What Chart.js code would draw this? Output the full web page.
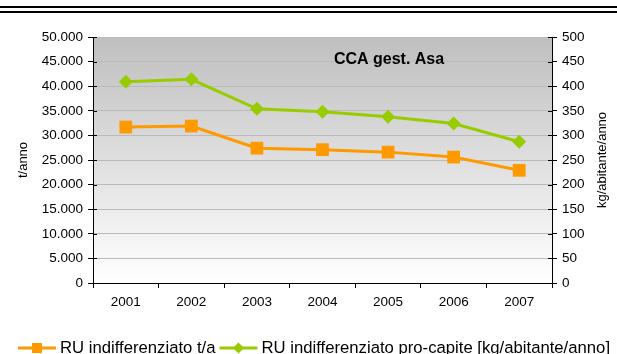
<!DOCTYPE html>
<html>
<head>
<meta charset="utf-8">
<script src="https://cdn.jsdelivr.net/npm/chart.js@4/dist/chart.umd.min.js"></script>
<style>
  html, body { margin: 0; padding: 0; background: #ffffff; }
  #wrap { position: relative; width: 617px; height: 354px; }
  .rule { position: absolute; left: 0; width: 617px; height: 2px; background: #000; }
</style>
</head>
<body>
<div id="wrap">
  <div class="rule" style="top:6px"></div>
  <div class="rule" style="top:11px"></div>
  <canvas id="c" width="617" height="354"></canvas>
</div>
<script>
// Anni
const years = ['2001', '2002', '2003', '2004', '2005', '2006', '2007'];
// Rifiuti urbani indifferenziati, tonnellate/anno (asse sinistro)
const ruTonnellate = [31700, 31900, 27400, 27100, 26600, 25600, 22900];
// Rifiuti urbani indifferenziati pro-capite, kg/abitante/anno (asse destro)
const ruProCapite = [409, 414, 354, 348, 338, 324, 287];

const seriesNames = ['RU indifferenziato t/a', 'RU indifferenziato pro-capite [kg/abitante/anno]'];
const chartTitle = 'CCA gest. Asa';
const leftAxisTitle = 't/anno';
const rightAxisTitle = 'kg/abitante/anno';

const FONT = '"Liberation Sans", Arial, sans-serif';
const ORANGE = '#FF9900';
const GREEN = '#99CC00';
const TICK_SIZE = 13.5;

const fmtThousands = v => {
  const s = Math.round(v).toString();
  return s.replace(/\B(?=(\d{3})+(?!\d))/g, '.');
};

// Sfondo sfumato dell'area del grafico
const bgPlugin = {
  id: 'bgGradient',
  beforeDraw(chart) {
    const { ctx, chartArea: a } = chart;
    const g = ctx.createLinearGradient(0, a.top, 0, a.bottom);
    g.addColorStop(0, '#bfbfbf');
    g.addColorStop(1, '#ffffff');
    ctx.save();
    ctx.fillStyle = g;
    ctx.fillRect(a.left, a.top, a.right - a.left, a.bottom - a.top);
    ctx.restore();
  }
};

// Tacche degli assi verticali che attraversano il bordo
const tickCrossPlugin = {
  id: 'tickCross',
  afterDatasetsDraw(chart) {
    const { ctx, chartArea: a, scales } = chart;
    ctx.save();
    ctx.strokeStyle = '#000';
    ctx.lineWidth = 1;
    ctx.beginPath();
    scales.y.ticks.forEach(t => {
      const py = Math.round(scales.y.getPixelForValue(t.value)) + 0.5;
      ctx.moveTo(a.left, py); ctx.lineTo(a.left + 4, py);
    });
    scales.y1.ticks.forEach(t => {
      const py = Math.round(scales.y1.getPixelForValue(t.value)) + 0.5;
      ctx.moveTo(a.right - 4, py); ctx.lineTo(a.right, py);
    });
    ctx.stroke();
    ctx.restore();
  }
};

// Titolo interno, titoli degli assi e legenda
const textPlugin = {
  id: 'texts',
  afterDraw(chart) {
    const { ctx } = chart;
    ctx.save();
    ctx.fillStyle = '#000';
    ctx.textBaseline = 'middle';

    ctx.font = 'bold 16px ' + FONT;
    ctx.textAlign = 'center';
    ctx.fillText(chartTitle, 389, 60);

    ctx.font = '13px ' + FONT;
    ctx.save();
    ctx.translate(23, 160);
    ctx.rotate(-Math.PI / 2);
    ctx.fillText(leftAxisTitle, 0, 0);
    ctx.restore();

    ctx.save();
    ctx.translate(602, 160);
    ctx.rotate(-Math.PI / 2);
    ctx.fillText(rightAxisTitle, 0, 0);
    ctx.restore();

    // Legenda
    ctx.font = '16.7px ' + FONT;
    ctx.textAlign = 'left';
    const y = 348;
    let x = 18;
    chart.data.datasets.forEach(ds => {
      const w = 38;
      ctx.strokeStyle = ds.borderColor;
      ctx.lineWidth = 3;
      ctx.beginPath();
      ctx.moveTo(x, y);
      ctx.lineTo(x + w, y);
      ctx.stroke();
      ctx.fillStyle = ds.pointBackgroundColor;
      if (ds.pointStyle === 'rect') {
        ctx.fillRect(x + w / 2 - 5, y - 5, 10, 10);
      } else {
        const r = 5.5;
        ctx.beginPath();
        ctx.moveTo(x + w / 2, y - r);
        ctx.lineTo(x + w / 2 + r, y);
        ctx.lineTo(x + w / 2, y + r);
        ctx.lineTo(x + w / 2 - r, y);
        ctx.closePath();
        ctx.fill();
      }
      ctx.fillStyle = '#000';
      ctx.fillText(ds.label, x + w + 4, y);
      x += w + 4 + ctx.measureText(ds.label).width + 4;
    });
    ctx.restore();
  }
};

new Chart(document.getElementById('c'), {
  type: 'line',
  data: {
    labels: years,
    datasets: [
      {
        label: seriesNames[0],
        data: ruTonnellate,
        yAxisID: 'y',
        borderColor: ORANGE,
        backgroundColor: ORANGE,
        pointBackgroundColor: ORANGE,
        pointBorderColor: ORANGE,
        borderWidth: 3,
        pointStyle: 'rect',
        pointRadius: 9,
        pointBorderWidth: 0,
        tension: 0
      },
      {
        label: seriesNames[1],
        data: ruProCapite,
        yAxisID: 'y1',
        borderColor: GREEN,
        backgroundColor: GREEN,
        pointBackgroundColor: GREEN,
        pointBorderColor: GREEN,
        borderWidth: 3,
        pointStyle: 'rectRot',
        pointRadius: 7,
        pointBorderWidth: 0,
        tension: 0
      }
    ]
  },
  options: {
    responsive: false,
    animation: false,
    devicePixelRatio: 1,
    layout: { padding: { left: 0, right: 0, top: 37, bottom: 41 } },
    plugins: {
      legend: { display: false },
      tooltip: { enabled: false },
      title: { display: false }
    },
    scales: {
      x: {
        offset: true,
        grid: {
          offset: true,
          drawOnChartArea: false,
          color: '#000',
          tickLength: 5,
          tickColor: '#000'
        },
        border: { color: '#000', width: 1 },
        ticks: { color: '#000', font: { family: FONT, size: TICK_SIZE }, padding: 6, maxRotation: 0 },
        afterFit(s) { s.height = 30; }
      },
      y: {
        position: 'left',
        min: 0,
        max: 50000,
        ticks: {
          stepSize: 5000,
          color: '#000',
          font: { family: FONT, size: TICK_SIZE },
          padding: 5,
          callback: v => fmtThousands(v)
        },
        grid: { color: '#bababa', tickColor: '#000', tickLength: 5 },
        border: { color: '#000', width: 1 },
        afterFit(s) { s.width = 93; }
      },
      y1: {
        position: 'right',
        min: 0,
        max: 500,
        ticks: {
          stepSize: 50,
          color: '#000',
          font: { family: FONT, size: TICK_SIZE },
          padding: 5
        },
        grid: { drawOnChartArea: false, color: '#000', tickLength: 5 },
        border: { color: '#000', width: 1 },
        afterFit(s) { s.width = 65; }
      }
    }
  },
  plugins: [bgPlugin, tickCrossPlugin, textPlugin]
});
</script>
</body>
</html>
